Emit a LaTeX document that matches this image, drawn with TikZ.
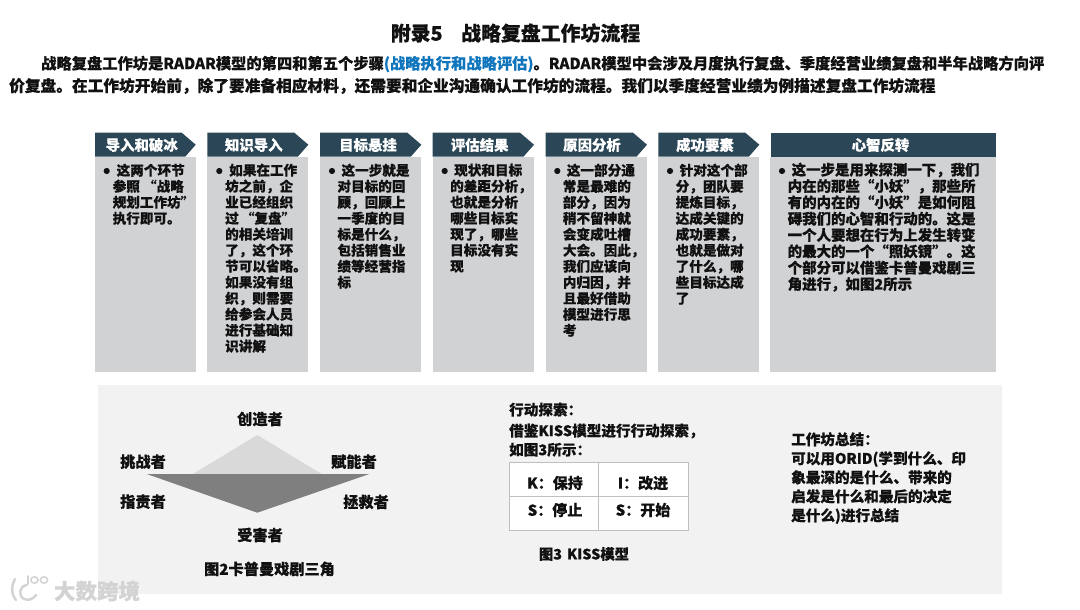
\documentclass[tikz,border=0pt]{standalone}
\usepackage{fontspec}
\setmainfont{Noto Sans CJK SC}[BoldFeatures={FakeBold=0.35}]
\definecolor{hdr}{HTML}{2B4757}
\definecolor{bodyfill}{HTML}{D0D2D4}
\definecolor{panel}{HTML}{F2F2F2}
\definecolor{ink}{HTML}{111111}
\definecolor{linkblue}{HTML}{0F75BD}
\definecolor{tri}{HTML}{D9D9D9}
\definecolor{tridark}{HTML}{7F7F7F}
\definecolor{tbl}{HTML}{BFBFBF}
\definecolor{wm}{HTML}{D3D3D3}
\newcommand{\fs}[2]{\fontsize{#1pt}{#2pt}\selectfont\bfseries}
\newcommand{\ff}[1]{\hspace*{4pt}}
\tikzset{
  x=1pt,y=-1pt,
  hdrshape/.style={fill=hdr,draw=none},
  hdrtext/.style={text=white,font=\fs{14.4}{16},inner sep=0pt},
  steptext/.style={text=ink,font=\fs{13.6}{16},align=left,inner sep=0pt,anchor=north west},
  widetext/.style={text=ink,font=\fs{14.45}{16.33},align=left,inner sep=0pt,anchor=north west},
  dot/.style={circle,fill=ink,draw=none,inner sep=0pt,minimum size=6.2pt},
  role/.style={text=ink,font=\fs{15.2}{18},inner sep=0pt},
  cell/.style={text=ink,font=\fs{15}{18},inner sep=0pt},
  plain/.style={text=ink,font=\fs{14.6}{19},align=left,inner sep=0pt,anchor=north west},
}
\begin{document}
\begin{tikzpicture}
\useasboundingbox (0,0) rectangle (1080,610);
\fill[white] (0,0) rectangle (1080,610);
\node[text=ink,font=\fs{19.9}{22},inner sep=0pt] (title) at (515.5,33) {附录5\hspace{18.5pt}战略复盘工作坊流程};
\node[text=ink,font=\fs{15.27}{22},anchor=west,inner sep=0pt] (p1) at (41,64) {战略复盘工作坊是RADAR模型的第四和第五个步骤{\color{linkblue}(战略执行和战略评估)}。RADAR模型中会涉及月度执行复盘、季度经营业绩复盘和半年战略方向评};
\node[text=ink,font=\fs{15.7}{22},anchor=west,inner sep=0pt] (p2) at (9,86) {价复盘。在工作坊开始前，除了要准备相应材料，还需要和企业沟通确认工作坊的流程。我们以季度经营业绩为例描述复盘工作坊流程};
% step columns
\foreach \xa/\xb in {95/195.7,207.3/308.3,320/421.3,432.7/534,545.7/647,658.3/759.3,770/996}{
  \fill[bodyfill] (\xa,156.7) rectangle (\xb,371.7);
}
\foreach \xa/\xb in {95/195.7,207.3/308.3,320/421.3,432.7/534,545.7/647,658.3/759.3}{
  \pgfmathsetmacro{\sa}{\xb-14}
  \pgfmathsetmacro{\sb}{\xb-10.5}
  \fill[hdrshape] (\xa,132.7) -- (\sa,132.7) -- (\xb,144.7) -- (\sb,156.7) -- (\xa,156.7) -- cycle;
}
\fill[hdrshape] (770.7,132.7) rectangle (995.7,156.7);
\node[hdrtext] (h1) at (141.7,145) {导入和破冰};
\node[hdrtext] (h2) at (253.8,145) {知识导入};
\node[hdrtext] (h3) at (368,145) {目标悬挂};
\node[hdrtext] (h4) at (479.7,145) {评估结果};
\node[hdrtext] (h5) at (592,145) {原因分析};
\node[hdrtext] (h6) at (705,145) {成功要素};
\node[hdrtext] (h7) at (880.5,145) {心智反转};
\foreach \x in {106.7,219.3,332,444.7,557.3,670,782}{\node[dot] at (\x,171) {};}
\node[steptext] (t1) at (112.5,163.5) {\ff{}这两个环节\\参照 “战略\\规划工作坊”\\执行即可。};
\node[steptext] (t2) at (225,163.5) {\ff{}如果在工作\\坊之前，企\\业已经组织\\\makebox[68pt][s]{过 “复盘”}\\的相关培训\\了，这个环\\节可以省略。\\如果没有组\\织，则需要\\给参会人员\\进行基础知\\识讲解};
\node[steptext] (t3) at (337.3,163.5) {\ff{}这一步就是\\对目标的回\\顾，回顾上\\一季度的目\\标是什么，\\包括销售业\\绩等经营指\\标};
\node[steptext] (t4) at (450,163.5) {\ff{}现状和目标\\的差距分析，\\也就是分析\\哪些目标实\\现了，哪些\\目标没有实\\现};
\node[steptext] (t5) at (562.7,163.5) {\ff{}这一部分通\\常是最难的\\部分，因为\\稍不留神就\\会变成吐槽\\大会。因此，\\我们应该向\\内归因，并\\且最好借助\\模型进行思\\考};
\node[steptext] (t6) at (675.5,163.5) {\ff{}针对这个部\\分，团队要\\提炼目标，\\达成关键的\\成功要素，\\也就是做对\\了什么，哪\\些目标达成\\了};
\node[widetext] (t7) at (787.5,162.5) {\ff{}这一步是用来探测一下，我们\\内在的那些“小妖”，那些所\\有的内在的“小妖”是如何阻\\碍我们的心智和行动的。这是\\一个人要想在行为上发生转变\\的最大的一个“照妖镜”。这\\个部分可以借鉴卡普曼戏剧三\\角进行，如图2所示};
% lower panel
\fill[panel] (98,385) rectangle (1001.5,594);
\fill[tri] (257.3,435) -- (321.7,474) -- (193,474) -- cycle;
\fill[tridark] (146.7,474) -- (369.3,474) -- (257.3,512.7) -- cycle;
\node[role] (r1) at (260,419) {创造者};
\node[role] (r2) at (143,461.7) {挑战者};
\node[role] (r3) at (354,461.7) {赋能者};
\node[role] (r4) at (143,501.7) {指责者};
\node[role] (r5) at (366,502) {拯救者};
\node[role] (r6) at (260,535) {受害者};
\node[role] (cap2) at (269.5,569) {图2卡普曼戏剧三角};
\node[plain] (act) at (509,402.5) {行动探索：\\[2pt]借鉴KISS模型进行行动探索，\\如图3所示：};
\fill[white] (509,462.8) rectangle (688,530.5);
\draw[tbl,line width=0.9pt] (509,462.8) rectangle (688,530.5);
\draw[tbl,line width=0.9pt] (598,462.8) -- (598,530.5) (509,496.7) -- (688,496.7);
\node[cell] (k) at (555,483) {K：保持};
\node[cell] (i) at (643,483) {I：改进};
\node[cell] (s1) at (555,510) {S：停止};
\node[cell] (s2) at (643,510) {S：开始};
\node[role,font=\fs{14.4}{18}] (cap3) at (584,554) {图3\hspace{5pt}KISS模型};
\node[plain] (sum) at (791,432) {工作坊总结：\\可以用ORID(学到什么、印\\象最深的是什么、带来的\\启发是什么和最后的决定\\是什么)进行总结};
% watermark
\draw[wm,line width=2.4pt,line cap=round] (15,579) .. controls (11,585) and (11,594) .. (16,600);
\draw[wm,line width=2.4pt,line cap=round] (27,585) .. controls (19,586) and (18,596) .. (24,599) .. controls (29,601) and (33,599) .. (36,595);
\draw[wm,line width=1.6pt,line cap=round] (28,576) -- (28,584);
\draw[wm,line width=1.5pt] (34.5,580) ellipse (3.6pt and 3.2pt) (44,580) ellipse (3.6pt and 3.2pt);
\node[text=wm,font=\fs{21.5}{24},inner sep=0pt] (wmark) at (97,591) {大数跨境};
\end{tikzpicture}
\end{document}
